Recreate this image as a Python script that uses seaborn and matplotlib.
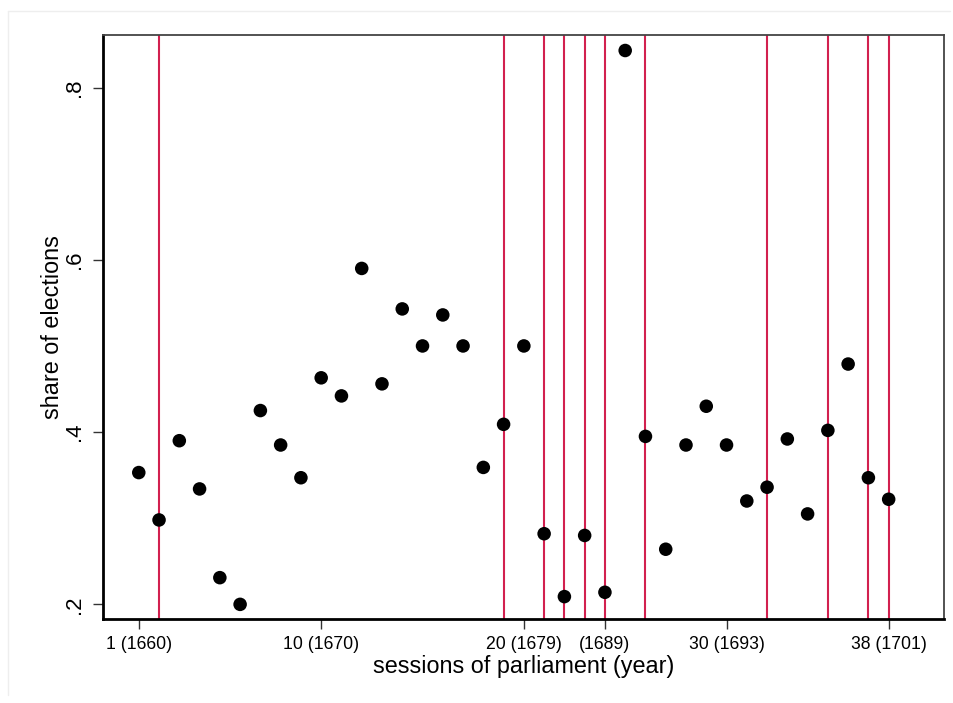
import matplotlib
matplotlib.use("Agg")
import matplotlib.pyplot as plt
import seaborn as sns
import pandas as pd
from matplotlib.lines import Line2D

# ---- data ----
sessions = list(range(1, 39))
share = [0.353, 0.298, 0.390, 0.334, 0.231, 0.200, 0.425, 0.385, 0.347, 0.463,
         0.442, 0.590, 0.456, 0.543, 0.500, 0.536, 0.500, 0.359, 0.409, 0.500,
         0.282, 0.209, 0.280, 0.214, 0.843, 0.395, 0.264, 0.385, 0.430, 0.385,
         0.320, 0.336, 0.392, 0.305, 0.402, 0.479, 0.347, 0.322]
red_lines = [2, 19, 21, 22, 23, 24, 26, 32, 35, 37, 38]
xtick_pos = [1, 10, 20, 24, 30, 38]
xtick_labels = ["1 (1660)", "10 (1670)", "20 (1679)", "(1689)", "30 (1693)", "38 (1701)"]
ytick_pos = [0.2, 0.4, 0.6, 0.8]
ytick_labels = [".2", ".4", ".6", ".8"]

df = pd.DataFrame({"session": sessions, "share": share})

sns.set_style("white")
plt.rcParams["font.family"] = ["Liberation Sans", "DejaVu Sans"]
plt.rcParams["text.color"] = "black"
plt.rcParams["axes.labelcolor"] = "black"
plt.rcParams["xtick.color"] = "black"
plt.rcParams["ytick.color"] = "black"

fig = plt.figure(figsize=(9.54, 7.03), dpi=100)
ax = fig.add_axes([102.7 / 954, 1 - 619 / 703, (944 - 102.7) / 954, (619 - 35) / 703])

for xv in red_lines:
    ax.axvline(xv, color="#D2204F", lw=1.5, zorder=1)

sns.scatterplot(data=df, x="session", y="share", color="black", s=95,
                edgecolor="none", linewidth=0, ax=ax, zorder=3)

ax.set_xlim(-0.78, 40.73)
ax.set_ylim(0.183, 0.861)

ax.set_xticks(xtick_pos)
ax.set_xticklabels(xtick_labels, fontsize=12.7)
ax.set_yticks(ytick_pos)
ax.set_yticklabels(ytick_labels, fontsize=16, rotation=90, va="center")

ax.tick_params(axis="both", which="major", direction="out", length=7, width=1.0,
               color="#333333", labelcolor="black",
               bottom=True, left=True, top=False, right=False)
ax.tick_params(axis="x", pad=5)
ax.tick_params(axis="y", pad=6)

ax.set_xlabel("sessions of parliament (year)", fontsize=16.8, labelpad=2, color="black")
ax.set_ylabel("share of elections", fontsize=16.8, labelpad=0, color="black")

for side in ["left", "bottom"]:
    ax.spines[side].set_color("black")
    ax.spines[side].set_linewidth(2.0)
for side in ["top", "right"]:
    ax.spines[side].set_color("#444444")
    ax.spines[side].set_linewidth(1.3)
    ax.spines[side].set_visible(True)

# faint outer graph-region border (top & left)
fig.add_artist(Line2D([8 / 954, 8 / 954], [1 - 11 / 703, 1 - 695 / 703],
                      transform=fig.transFigure, color="#eeeeee", lw=1))
fig.add_artist(Line2D([8 / 954, 950 / 954], [1 - 11 / 703, 1 - 11 / 703],
                      transform=fig.transFigure, color="#eeeeee", lw=1))

fig.savefig("out.png", dpi=100, facecolor="white")
